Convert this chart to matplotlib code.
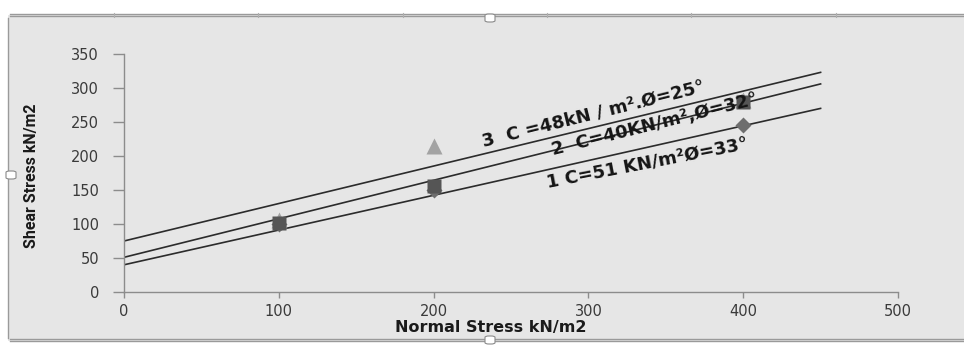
import matplotlib.pyplot as plt
from matplotlib.patches import Rectangle, FancyBboxPatch
from matplotlib.lines import Line2D

# data
normal_stress = [100, 200, 400]
shear_1 = [100, 150, 245]   # diamonds
shear_2 = [101, 156, 280]   # squares
shear_3 = [106, 215, 282]   # triangles

# fitted failure envelopes (end points, x = 0 and x = 450)
line_x = [0, 450]
line_1 = [40, 270]
line_2 = [51, 306]
line_3 = [75, 323]

labels = ["1 C=51 KN/m\u00b2\u00d8=33\u00b0",
          "2  C=40KN/m\u00b2,\u00d8=32\u00b0",
          "3  C =48kN / m\u00b2.\u00d8=25\u00b0"]

xticks = [0, 100, 200, 300, 400, 500]
yticks = [0, 50, 100, 150, 200, 250, 300, 350]

W, H = 964, 345
fig = plt.figure(figsize=(W / 100, H / 100), dpi=100)
fig.patch.set_facecolor("white")

# grey picture frame behind the chart
bg = "#e6e6e6"
fig.patches.append(Rectangle((8 / W, 1 - 341 / H), 1, (341 - 15) / H,
                             transform=fig.transFigure, facecolor=bg,
                             edgecolor="none", zorder=-10))
edge = "#9a9a9a"
for yy in (14, 16, 339, 341):
    fig.lines.append(Line2D([10 / W, 1], [1 - yy / H] * 2, transform=fig.transFigure,
                            color=edge, lw=1))
fig.lines.append(Line2D([8 / W, 8 / W], [1 - 338 / H, 1 - 18 / H], transform=fig.transFigure,
                        color=edge, lw=1))
for tx in (114, 258, 403, 547, 691, 836):
    fig.lines.append(Line2D([tx / W] * 2, [1 - 13 / H, 1 - 17 / H], transform=fig.transFigure,
                            color="#b0b0b0", lw=0.8))
# handles
for hx, hy in ((490, 18), (490, 340), (11, 175)):
    fig.patches.append(FancyBboxPatch(((hx - 5) / W, 1 - (hy + 4) / H), 10 / W, 8 / H,
                                      boxstyle="round,pad=0,rounding_size=0.004",
                                      transform=fig.transFigure, facecolor="white",
                                      edgecolor="#8a8a8a", lw=0.8, zorder=5))

ax = fig.add_axes([124 / W, 1 - 292 / H, (898 - 124) / W, (292 - 54) / H])
ax.set_facecolor("none")
ax.set_xlim(0, 500)
ax.set_ylim(0, 350)

ax.plot(line_x, line_1, color="#2b2b2b", lw=1.2, zorder=2)
ax.plot(line_x, line_2, color="#2b2b2b", lw=1.2, zorder=2)
ax.plot(line_x, line_3, color="#2b2b2b", lw=1.2, zorder=2)

ax.plot(normal_stress, shear_3, "^", color="#a3a3a3", ms=11, mec="none", zorder=3)
ax.plot(normal_stress, shear_1, "D", color="#6e6e6e", ms=8, mec="none", zorder=3)
ax.plot(normal_stress, shear_2, "s", color="#555555", ms=10, mec="none", zorder=4)

tfont = dict(family="DejaVu Sans", weight="bold", size=13, color="#151515")
ax.text(338, 190, labels[0], rotation=11, ha="center", va="center",
        rotation_mode="anchor", zorder=6, **tfont)
ax.text(343, 246, labels[1], rotation=14, ha="center", va="center",
        rotation_mode="anchor", zorder=6, **tfont)
ax.text(303, 262, labels[2], rotation=14, ha="center", va="center",
        rotation_mode="anchor", zorder=6, **tfont)

for s in ("top", "right"):
    ax.spines[s].set_visible(False)
for s in ("left", "bottom"):
    ax.spines[s].set_color("#8c8c8c")
    ax.spines[s].set_linewidth(1)
ax.set_xticks(xticks)
ax.set_yticks(yticks)
ax.tick_params(direction="out", width=1, color="#8c8c8c",
               labelsize=10.5, labelcolor="#3a3a3a")
ax.tick_params(axis="y", length=8, pad=10)
ax.tick_params(axis="x", length=4.5, pad=4)

ax.set_xlabel("Normal Stress kN/m2", fontsize=11.5, fontweight="bold",
              color="#1a1a1a", va="center")
ax.xaxis.set_label_coords(0.474, -0.148)
ax.set_ylabel("Shear Stress kN/m2", fontsize=11.5, fontweight="bold",
              family=["Roboto", "DejaVu Sans"], color="#1a1a1a", va="center")
ax.yaxis.set_label_coords(-0.119, 0.49)

fig.savefig("out.png", dpi=100, facecolor=fig.get_facecolor())
